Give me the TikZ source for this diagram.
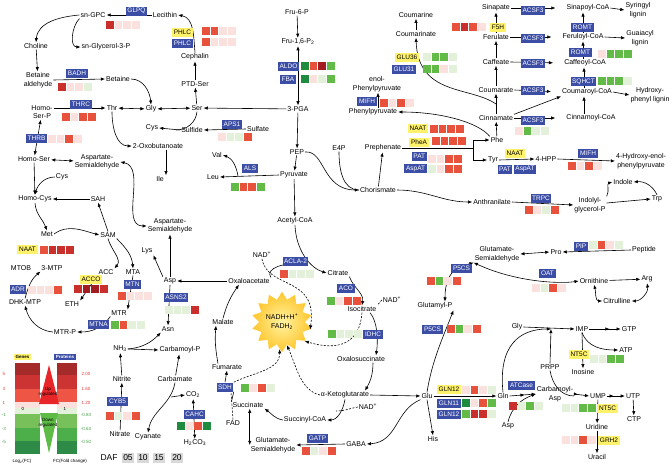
\documentclass[tikz,border=0pt]{standalone}
\usepackage{fontspec}
\setmainfont{Liberation Sans}
\usetikzlibrary{arrows.meta,shapes.geometric}

\definecolor{enzblue}{HTML}{3B4DA5}
\definecolor{enzyellow}{HTML}{FFF26B}
\definecolor{hR}{HTML}{E8513C}
\definecolor{hD}{HTML}{C9302C}
\definecolor{hX}{HTML}{A11D21}
\definecolor{hP}{HTML}{FBE1DD}
\definecolor{hL}{HTML}{E3F0DA}
\definecolor{hM}{HTML}{62BB47}
\definecolor{hK}{HTML}{1F8B3F}
\definecolor{lc1}{HTML}{A52A2A}
\definecolor{lc2}{HTML}{CC3333}
\definecolor{lc3}{HTML}{EE5544}
\definecolor{lc6}{HTML}{77C05A}
\definecolor{lc7}{HTML}{4DAF4A}
\definecolor{lc8}{HTML}{2E8B47}
\definecolor{tred}{HTML}{E8262A}
\definecolor{tgreen}{HTML}{5DBB46}
\definecolor{labred}{HTML}{E53935}
\definecolor{labgreen}{HTML}{43A047}
\definecolor{sunin}{HTML}{FFF3A0}
\definecolor{sunout}{HTML}{FFC62E}

\tikzset{
  cpd/.style={font=\fontsize{7}{8.5}\selectfont, inner sep=0.8pt, align=center},
  enzb/.style={fill=enzblue, text=white, font=\fontsize{6.5}{7}\selectfont,
    inner xsep=1.6pt, inner ysep=0pt, minimum height=9pt},
  enzy/.style={enzb, fill=enzyellow, text=black},
  arr/.style={-{Latex[length=4.2pt,width=3.4pt]}},
  darr/.style={{Latex[length=4.2pt,width=3.4pt]}-{Latex[length=4.2pt,width=3.4pt]}},
  arrr/.style={-{Latex[length=4.2pt,width=3.4pt,sep=7pt]Latex[length=4.2pt,width=3.4pt]}},
  dsh/.style={dash pattern=on 2pt off 1.5pt},
  sunstar/.style={star, star points=14, star point ratio=1.32, minimum size=56pt,
    inner sep=0pt, shading=radial, inner color=sunin, outer color=sunout,
    align=center, font=\fontsize{7}{9}\selectfont},
  legtxt/.style={font=\fontsize{4.5}{5}\selectfont, inner sep=0.5pt, align=center},
  legb/.style={enzb, font=\bfseries\fontsize{4.5}{5}\selectfont, minimum height=6pt},
  legy/.style={legb, fill=enzyellow, text=black},
  dafbox/.style={fill=black!15, font=\fontsize{8.5}{9}\selectfont, inner sep=0.5pt,
    minimum width=12pt, minimum height=10pt}
}

% heat map of four squares: x, y (top left), colours
\newcommand{\hmap}[3]{\foreach \c [count=\i from 0] in {#3} {\fill[\c] ({#1+8.6*\i},#2) rectangle ++(7.8,7.8);}}

\begin{document}
\begin{tikzpicture}[x=1pt, y=-1pt, line width=0.6pt]
\useasboundingbox (0,0) rectangle (670,466);
% Phospholipids, serine and glycine
\node[cpd] (snGPC) at (93,15) {sn-GPC};
\node[cpd] (lecithin) at (165,15) {Lecithin};
\node[cpd] (choline) at (36,46) {Choline};
\node[cpd] (snG3P) at (106,47) {sn-Glycerol-3-P};
\node[cpd] (betald) at (38,80) {Betaine\\aldehyde};
\node[cpd] (betaine) at (118,79) {Betaine};
\node[cpd] (homoserp) at (42,112) {Homo-\\Ser-P};
\node[cpd] (thr) at (112,108) {Thr};
\node[cpd] (gly) at (151,109) {Gly};
\node[cpd] (ser) at (197,108) {Ser};
\node[cpd] (ptdser) at (195,84) {PTD-Ser};
\node[cpd] (cephalin) at (195,57) {Cephalin};
\node[cpd] (cys) at (152,128) {Cys};
\node[cpd] (sulfide) at (192,130) {Sulfide};
\node[cpd] (sulfate) at (258,129) {Sulfate};
\node[cpd] (oxob) at (158,146) {2-Oxobutanoate};
% Methionine cycle
\node[cpd] (homoser) at (34,159) {Homo-Ser};
\node[cpd] (aspsa) at (97,162) {Aspartate-\\Semialdehyde};
\node[cpd] (ile) at (160,179) {Ile};
\node[cpd] (val) at (217,155) {Val};
\node[cpd] (leu) at (213,177) {Leu};
\node[cpd] (cysb) at (62,177) {Cys};
\node[cpd] (homocys) at (35,199) {Homo-Cys};
\node[cpd] (sah) at (98,199) {SAH};
\node[cpd] (met) at (47,234) {Met};
\node[cpd] (sam) at (108,235) {SAM};
\node[cpd] (aspsb) at (170,226) {Aspartate-\\Semialdehyde};
\node[cpd] (lys) at (147,251) {Lys};
\node[cpd] (asp) at (170,281) {Asp};
\node[cpd] (mtob) at (21,268) {MTOB};
\node[cpd] (mtp) at (52,268) {3-MTP};
\node[cpd] (acc) at (106,272) {ACC};
\node[cpd] (mta) at (133,272) {MTA};
\node[cpd] (dhkmtp) at (25,302) {DHK-MTP};
\node[cpd] (eth) at (72,304) {ETH};
\node[cpd] (mtr) at (119,313) {MTR};
\node[cpd] (mtrp) at (65,332) {MTR-P};
\node[cpd] (asn) at (168,329) {Asn};
\node[cpd] (nh3) at (120,349) {NH\textsubscript{3}};
\node[cpd] (carbp) at (180,350) {Carbamoyl-P};
\node[cpd] (nitrite) at (122,379) {Nitrite};
\node[cpd] (carbamate) at (175,379) {Carbamate};
\node[cpd] (co2) at (193,395) {CO\textsubscript{2}};
\node[cpd] (nitrate) at (120,434) {Nitrate};
\node[cpd] (cyanate) at (148,437) {Cyanate};
\node[cpd] (h2co3) at (195,443) {H\textsubscript{2}CO\textsubscript{3}};
% Glycolysis and TCA cycle
\node[cpd] (fru6p) at (297,12) {Fru-6-P};
\node[cpd] (fru16p) at (298,42) {Fru-1,6-P\textsubscript{2}};
\node[cpd] (pga) at (298,109) {3-PGA};
\node[cpd] (pep) at (297,152) {PEP};
\node[cpd] (e4p) at (339,148) {E4P};
\node[cpd] (pyr) at (294,175) {Pyruvate};
\node[cpd] (accoa) at (295,221) {Acetyl-CoA};
\node[cpd] (nada) at (262,255) {NAD\textsuperscript{+}};
\node[cpd] (citrate) at (338,273) {Citrate};
\node[cpd] (oaa) at (249,281) {Oxaloacetate};
\node[cpd] (malate) at (223,322) {Malate};
\node[cpd] (fumarate) at (227,367) {Fumarate};
\node[cpd] (succ) at (248,405) {Succinate};
\node[cpd] (fad) at (233,423) {FAD};
\node[cpd] (succoa) at (305,420) {Succinyl-CoA};
\node[cpd] (glusa) at (273,445) {Glutamate-\\Semialdehyde};
\node[cpd] (isocit) at (362,309) {Isocitrate};
\node[cpd] (nadb) at (392,300) {NAD\textsuperscript{+}};
\node[cpd] (oxsucc) at (361,359) {Oxalosuccinate};
\node[cpd] (akg) at (345,395) {α-Ketoglutarate};
\node[cpd] (nadc) at (368,407) {NAD\textsuperscript{+}};
\node[cpd] (gaba) at (356,444) {GABA};
\node[cpd] (glu) at (427,396) {Glu};
\node[cpd] (his) at (433,439) {His};
\node[cpd] (glutp) at (435,306) {Glutamyl-P};
\node[cpd] (glusb) at (497,254) {Glutamate-\\Semialdehyde};
\node[sunstar] (sun) at (282,322) {NADH+H\textsuperscript{+}\\FADH\textsubscript{2}};
% Aromatic amino acids and lignin
\node[cpd] (chor) at (378,190) {Chorismate};
\node[cpd] (preph) at (383,148) {Prephenate};
\node[cpd] (anthr) at (492,202) {Anthranilate};
\node[cpd] (phe) at (497,140) {Phe};
\node[cpd] (tyr) at (493,160) {Tyr};
\node[cpd] (phpyr) at (373,112) {Phenylpyruvate};
\node[cpd] (enolph) at (377,84) {enol-\\Phenylpyruvate};
\node[cpd] (coumarine) at (416,15) {Coumarine};
\node[cpd] (coumarinate) at (416,34) {Coumarinate};
\node[cpd] (sinapate) at (496,8) {Sinapate};
\node[cpd] (ferulate) at (496,37) {Ferulate};
\node[cpd] (caffeate) at (496,62) {Caffeate};
\node[cpd] (coumarate) at (496,90) {Coumarate};
\node[cpd] (cinnamate) at (496,118) {Cinnamate};
\node[cpd] (sincoa) at (588,8) {Sinapoyl-CoA};
\node[cpd] (fercoa) at (583,37) {Feruloyl-CoA};
\node[cpd] (cafcoa) at (585,63) {Caffeoyl-CoA};
\node[cpd] (coucoa) at (587,92) {Coumaroyl-CoA};
\node[cpd] (cincoa) at (591,118) {Cinnamoyl-CoA};
\node[cpd] (syring) at (638,10) {Syringyl\\lignin};
\node[cpd] (guaia) at (640,38) {Guaiacyl\\lignin};
\node[cpd] (hydrox) at (650,95) {Hydroxy-\\phenyl lignin};
\node[cpd] (hpp) at (546,159) {4-HPP};
\node[cpd] (hepp) at (641,161) {4-Hydroxy-enol-\\phenylpyruvate};
\node[cpd] (indole) at (623,182) {Indole};
\node[cpd] (igp) at (590,205) {Indolyl-\\glycerol-P};
\node[cpd] (trp) at (657,199) {Trp};
\node[cpd] (pro) at (556,252) {Pro};
\node[cpd] (peptide) at (644,250) {Peptide};
\node[cpd] (orn) at (594,281) {Ornithine};
\node[cpd] (arg) at (647,279) {Arg};
\node[cpd] (citr) at (617,301) {Citrulline};
% Nucleotides
\node[cpd] (glyb) at (517,327) {Gly};
\node[cpd] (imp) at (582,329) {IMP};
\node[cpd] (gtp) at (629,329) {GTP};
\node[cpd] (atp) at (626,350) {ATP};
\node[cpd] (prpp) at (550,367) {PRPP};
\node[cpd] (inosine) at (583,372) {Inosine};
\node[cpd] (gln) at (503,396) {Gln};
\node[cpd] (carbasp) at (555,394) {Carbamoyl-\\Asp};
\node[cpd] (ump) at (598,396) {UMP};
\node[cpd] (utp) at (633,396) {UTP};
\node[cpd] (ctp) at (634,419) {CTP};
\node[cpd] (aspb) at (508,426) {Asp};
\node[cpd] (uridine) at (597,427) {Uridine};
\node[cpd] (uracil) at (597,457) {Uracil};

% Reactions, left part
\draw[arr] (lecithin) -- (snGPC);
\draw[arr] (snGPC.west) to[out=185,in=85] (choline.north);
\draw[arr] (snGPC.south west) to[out=225,in=180] (snG3P.west);
\draw[arr] (choline) -- (betald);
\draw[arr] (betald.east) -- (betaine.west);
\draw[arr] (betaine.east) to[out=0,in=95] (gly.north);
\draw[arr] (homoserp.east |- thr.west) -- (thr.west);
\draw[darr] (thr) -- (gly);
\draw[darr] (gly) -- (ser);
\draw[arr] (pga) -- (ser);
\draw[arr] (ser) -- (ptdser);
\draw[arr] (ptdser) -- (cephalin);
\draw[arr] (cephalin.north) to[out=95,in=-10] (lecithin.east);
\coordinate (cysj) at (176,130);
\draw[arr] (sulfide.west) -- (cys.east);
\draw (ser.south) to[out=-95,in=0] (cysj);
\draw[arr] (sulfate.west) -- (sulfide.east);
\draw[arr] (thr.south) to[out=-90,in=180] (oxob.west);
\draw[darr] (homoserp) -- (homoser);
\draw[darr] (homoser) -- (aspsa);
\draw[arr] (homoser) -- (homocys);
\draw[arr] (cysb.west) to[out=180,in=75] (homocys.north);
\draw[arr] (sah) -- (homocys);
\draw[arr] (homocys.south) to[out=-85,in=110] (met.north);
\draw[arr] (met.east) to[out=35,in=165] (sam.west);
\draw[arr] (sam.north) -- (sah.south);
\draw[arr] (sam.south) to[out=-75,in=50] (acc.north east);
\draw[arr] (sam.south east) to[out=-45,in=95] (mta.north);
\draw[arr] (acc.south west) -- (eth.north east);
\draw[arr] (mta.south) -- (mtr.north east);
\draw[arr] (mtr.south west) to[out=-125,in=0] (mtrp.east);
\draw[arr] (mtrp.west) to[out=175,in=-75] (dhkmtp.south);
\draw[arr] (dhkmtp.north) to[out=75,in=-140] (mtp.south west);
\draw[darr] (aspsa.east) to[out=-10,in=180] (aspsb.west);
\draw[arr] (asp.north) -- (aspsb.south);
\draw[arr] (asp.north west) -- (lys.south east);
\draw[arr] (oaa.west) -- (asp.east);
\draw[arr] (asp.south) -- (asn.north);
\draw[arr] (nh3.east) to[out=5,in=-135] (asn.south west);
\draw[arr] (nh3.east) -- (carbp.west);
\draw[arr] (nitrite) -- (nh3);
\draw[arr] (nitrate) -- (nitrite);
\draw[arr] (carbamate) -- (carbp);
\draw[arr] (carbamate.south) to[out=-100,in=80] (cyanate.north);
\coordinate (co2j) at (171,397);
\draw[arr] (co2j) -- (co2.west);
\draw[darr] (co2) -- (h2co3);

% Glycolysis, branched amino acids
\draw[arr] (fru6p) -- (fru16p);
\draw[darr] (fru16p) -- (pga);
\draw[arr] (pga) -- (pep);
\draw[arr] (pep) -- (pyr);
\draw[arr] (pyr) -- (accoa);
\draw[arr] (pyr.west) -- (leu.east);
\coordinate (valj) at (238,176);
\draw[arr] (valj) to[out=100,in=-20] (val.east);
\draw[arr] ([xshift=8pt]oxob.south) -- ([xshift=6pt]ile.north);

% TCA cycle
\coordinate (csj) at (303,264);
\draw[arr] (accoa.south) .. controls (296,250) and (310,268) .. (citrate.west);
\draw (oaa.north east) .. controls (265,268) and (285,262) .. (csj);
\draw[arr] (malate.north) to[out=75,in=-125] ([xshift=-10pt]oaa.south);
\draw[arr] ([xshift=-9pt]fumarate.north) to[out=100,in=-95] ([xshift=-7pt]malate.south);
\draw[arr] (citrate.south east) to[out=-70,in=80] (isocit.north);
\draw[dsh] (nadb.west) -- (isocit.north east);
\draw[arr] ([xshift=8pt]isocit.south) .. controls (378,322) and (378,342) .. ([xshift=15pt]oxsucc.north);
\draw[arr] ([xshift=12pt]oxsucc.south) .. controls (373,375) and (370,382) .. ([xshift=20pt]akg.north);
\draw[arr] (akg.east) -- (glu.west);
\draw[arr] (akg.south) to[out=-100,in=0] (succoa.east);
\coordinate (nadcj) at (336,411);
\draw[dsh] (nadc.west) to[out=190,in=0] (nadcj);
\draw[arr] (succoa.west) to[out=170,in=-35] (succ.south east);
\draw[darr] (succ.south -| glusa.west) -- (glusa.west);
\draw[arr] (gaba.west) -- (glusa.east);
\draw[arr] (glu.south west) .. controls (395,410) and (398,442) .. (gaba.east);
\draw[arr] (glu.south) -- (his.north);
\draw[arr] (glu.north) .. controls (432,360) and (444,335) .. (glutp.south east);
\draw[darr] ([xshift=10pt]glutp.north) .. controls (445,268) and (462,266) .. (glusb.south west);
\draw[arr] (glu.east) -- (gln.west);
\draw[dsh,arr] (nada.south) .. controls (268,290) and (318,275) .. (sun.-15);
\draw[dsh,arr] (isocit.south) .. controls (360,342) and (340,352) .. (sun.-40);
\draw[dsh,arr] (akg.west) .. controls (300,390) and (296,365) .. (sun.-78);

% Aromatic amino acids and phenylpropanoids
\draw[arr] (pep.east) .. controls (325,150) and (322,190) .. (chor.west);
\draw (e4p.south) to[out=-90,in=180] (chor.west);
\draw[arr] (chor) -- (preph);
\draw[arr] (chor.east) to[out=0,in=180] (anthr.west);
\coordinate (fork) at (473,148);
\draw (preph.east) -- (fork);
\draw[arr] (fork) |- (phe.west);
\draw[arr] (fork) |- (tyr.west);
\draw[arr] (phe.north west) .. controls (478,122) and (440,112) .. (phpyr.east);
\draw[arr] ([xshift=5pt]phpyr.north) -- ([xshift=1pt]enolph.south);
\draw[arr] (phe) -- (cinnamate);
\draw[arr] (cinnamate) -- (coumarate);
\draw[arr] (coumarate) -- (caffeate);
\draw[arr] (caffeate) -- (ferulate);
\draw[arr] (ferulate) -- (sinapate);
\coordinate (coumj) at (496,104);
\draw[arr] (coumj) .. controls (470,86) and (418,96) .. (coumarinate.south);
\draw[arr] (coumarinate) -- (coumarine);
\foreach \a/\b in {sinapate/sincoa, ferulate/fercoa, caffeate/cafcoa, coumarate/coucoa, cinnamate/cincoa}
  \draw[arr, shorten >=10pt] (\a.east) -- (\b.west);
\draw[arr] (cinnamate.north east) -- (coucoa.south west);
\draw[arr] ([xshift=-7pt]cincoa.north) -- ([xshift=-3pt]coucoa.south);
\draw[arr] ([xshift=-3pt]coucoa.north) -- ([xshift=-1pt]cafcoa.north |- cafcoa.south);
\draw[arr] ([xshift=-2pt]cafcoa.north) -- (fercoa.south);
\draw[arr] (fercoa.north) -- ([xshift=-5pt]sincoa.south);
\draw[arr] (sincoa.east) -- (syring.west);
\draw[arr] (fercoa.east) -- (guaia.west);
\draw[arr] (coucoa.east) -- (hydrox.west);
\draw[arr] (tyr.east) -- (hpp.west);
\draw[arr] (hpp.east) -- (hepp.west);
\draw[arr] (anthr.east) -- (igp.west);
\draw[arr] (igp.north east) to[out=60,in=195] (indole.west);
\draw[arr] ([yshift=2pt]igp.east) -- (trp.west);
\draw[arr] (trp.north) to[out=115,in=5] (indole.east);
\draw[darr] (glusb.east) -- (pro.west);
\draw[arr] (peptide.west) -- (pro.east);
\draw[darr] (glusb.south west) .. controls (515,282) and (560,284) .. (orn.west);
\draw[arr] (orn) -- (arg);
\draw[darr] (orn.south) to[out=-75,in=180] (citr.west);
\draw[darr] (citr.east) to[out=0,in=-80] (arg.south);

% Nucleotides
\coordinate (impj) at (551,329);
\coordinate (umpj) at (574,396);
\draw[arr] (glyb.east) -- (imp.west);
\draw[arr] (gln.north) .. controls (498,345) and (520,329) .. (impj);
\draw[arr] (prpp.north) -- (impj);
\draw[arrr] (imp.east) -- (gtp.west);
\draw[arr] (imp.south) to[out=-70,in=180] (atp.west);
\draw[arr] (imp.south) -- (inosine.north);
\draw[arrr] (gln.east) -- (carbasp.west);
\draw[arr] (aspb.north) to[out=75,in=200] (carbasp.west);
\draw[arrr] (carbasp.east) -- (ump.west);
\draw (prpp.south) to[out=-80,in=180] (umpj);
\draw[arrr] (ump.east) -- (utp.west);
\draw[arr] (utp) -- (ctp);
\draw[arr] (ump) -- (uridine);
\draw[arr] (uridine) -- (uracil);

% Enzymes and heat maps
\node[enzb] (glpq) at (136.5,11) {GLPQ}; \hmap{106}{21}{hD,hP,hP,hP}
\node[enzy] (phlcy) at (182.5,32) {PHLC}; \hmap{202}{27}{hR,hR,hP,hP}
\node[enzb] (phlcb) at (182.5,43) {PHLC}; \hmap{202}{38}{hR,hP,hP,hP}
\node[enzb] (badh) at (77,73) {BADH}; \hmap{58}{83}{hD,hP,hP,hL}
\node[enzb] (thrc) at (81,104.5) {THRC}; \hmap{62}{113}{hR,hP,hR,hR}
\node[enzb] (thrb) at (36.5,138.5) {THRB}; \hmap{48}{135}{hP,hP,hR,hP}
\node[enzb] (aps1) at (232,124) {APS1}; \hmap{218}{133}{hP,hL,hL,hR}
\node[enzb] (aldo) at (288.5,66.5) {ALDO}; \hmap{301}{62}{hK,hR,hX,hM}
\node[enzb] (fba) at (288,79.5) {FBA}; \hmap{301}{75}{hK,hP,hL,hM}
\node[enzb] (als) at (250,168.5) {ALS}; \hmap{231}{183}{hM,hR,hR,hM}
\node[enzy] (naata) at (27.5,249) {NAAT}; \hmap{40}{246}{hR,hD,hD,hD}
\node[enzb] (adr) at (18,289) {ADR}; \hmap{28}{286}{hP,hP,hP,hR}
\node[enzy] (acco) at (91,279) {ACCO}; \hmap{74}{285}{hD,hX,hX,hD}
\node[enzb] (mtn) at (132.5,284.5) {MTN}; \hmap{118}{292}{hR,hP,hP,hP}
\node[enzb] (mtna) at (98.5,324) {MTNA}; \hmap{111}{321}{hM,hR,hL,hL}
\node[enzb] (asns2) at (176,297) {ASNS2}; \hmap{165}{306}{hL,hL,hL,hD}
\node[enzb] (cyb5) at (117.5,401) {CYB5}; \hmap{106}{412}{hR,hL,hP,hR}
\node[enzb] (cahc) at (194.5,414.5) {CAHC}; \hmap{177}{422}{hK,hP,hR,hK}
\node[enzb] (sdh) at (225,387) {SDH}; \hmap{241}{384}{hM,hP,hR,hL}
\node[enzb] (gatp) at (317.5,438.5) {GATP}; \hmap{302}{447}{hR,hL,hP,hR}
\node[enzb] (acla) at (295.5,261) {ACLA-2}; \hmap{280}{270}{hR,hL,hL,hL}
\node[enzb] (aco) at (346,288.5) {ACO}; \hmap{327}{297}{hM,hP,hR,hR}
\node[enzb] (idhc) at (373,334) {IDHC}; \hmap{328}{330}{hM,hL,hL,hL}
\node[enzb] (p5csa) at (461.5,268) {P5CS}; \hmap{427}{277}{hR,hM,hP,hR}
\node[enzb] (p5csb) at (432.5,329.5) {P5CS}; \hmap{447}{325}{hR,hM,hP,hR}
\node[enzy] (gln12y) at (449,389) {GLN12}; \hmap{462}{386}{hP,hR,hP,hL}
\node[enzb] (gln11) at (449,403.5) {GLN11}; \hmap{462}{399}{hK,hP,hR,hM}
\node[enzb] (gln12b) at (449,414.5) {GLN12}; \hmap{462}{410}{hM,hD,hD,hL}
\node[enzb] (atcase) at (521.5,385) {ATCase}; \hmap{509}{402}{hD,hL,hM,hL}
\node[enzy] (nt5ca) at (579,354.5) {NT5C}; \hmap{590}{355}{hL,hL,hM,hM}
\node[enzy] (nt5cb) at (607.5,408) {NT5C}; \hmap{562}{404}{hL,hL,hM,hM}
\node[enzy] (grh2) at (609,440.5) {GRH2}; \hmap{562}{436}{hP,hP,hR,hP}
\node[enzy] (glu36) at (407,57) {GLU36}; \hmap{423}{53}{hL,hM,hM,hL}
\node[enzb] (glu31) at (404,69.5) {GLU31}; \hmap{423}{65}{hM,hM,hP,hL}
\node[enzy] (f5h) at (498,27) {F5H}; \hmap{452}{23}{hR,hD,hR,hP}
\node[enzb] (mifha) at (367,101.5) {MIFH}; \hmap{380}{99}{hR,hP,hR,hP}
\node[enzy] (naatb) at (418,128.5) {NAAT}; \hmap{430}{125}{hR,hR,hR,hR}
\node[enzy] (phea) at (419,142) {PheA}; \hmap{432}{137}{hR,hR,hR,hR}
\node[enzb, anchor=east] (pata) at (427,156) {PAT}; \hmap{428}{155}{hP,hP,hR,hR}
\node[enzb, anchor=east] (aspata) at (427,168.5) {AspAT}; \hmap{428}{165}{hL,hP,hR,hR}
\node[enzy] (naatc) at (515,153) {NAAT};
\node[enzb] (patb) at (505,169) {PAT};
\node[enzb] (aspatb) at (525,169) {AspAT};
\node[enzb] (mifhb) at (588,153) {MIFH}; \hmap{568}{162}{hR,hP,hR,hP}
\node[enzb] (trpc) at (541,198) {TRPC}; \hmap{525}{206}{hR,hP,hL,hR}
\node[enzb] (pip) at (581,246.5) {PIP}; \hmap{589}{241}{hL,hR,hP,hL}
\node[enzb] (oat) at (547.5,273.5) {OAT}; \hmap{532}{284}{hP,hL,hR,hP}
\foreach \y [count=\k] in {10.5,38,63,90.5,120}
  \node[enzb] (acsf\k) at (533,\y) {ACSF3};
\hmap{515}{127}{hP,hM,hL,hL}
\node[enzb] (romta) at (582.5,27.5) {ROMT};
\node[enzb] (romtb) at (580.5,52.5) {ROMT}; \hmap{598}{50}{hP,hM,hM,hM}
\node[enzb] (sqhct) at (583.5,81.5) {SQHCT}; \hmap{598}{77}{hM,hM,hM,hL}

% Succinate dehydrogenase
\draw (succ.north west) -- (sdh.south east);
\draw[arr] (sdh.north) -- (fumarate.south);
\draw[dsh] (fad.north) -- ([xshift=6pt]sdh.south);
\draw[dsh,arr] (sdh.north east) .. controls (255,372) and (280,370) .. (sun.-95);

% Legend
\node[legy] (lgenes) at (22.5,357) {Genes};
\node[legb] (lprot) at (65,357) {Proteins};
\foreach \ya/\yb/\c in {363/375/lc1, 375/389/lc2, 389/402/lc3, 402/408/hP, 408/414/hL, 414/428/lc6, 428/441/lc7, 441/454/lc8} {
  \fill[\c] (15,\ya) rectangle (40,\yb);
  \fill[\c] (57,\ya) rectangle (77,\yb);
}
\fill[tred] (49,365) -- (59,404) -- (39,404) -- cycle;
\fill[tgreen] (40,413) -- (58,413) -- (49,453) -- cycle;
\node[legtxt] (lup) at (48,392) {Up\\regulated};
\node[legtxt] (ldown) at (48,423) {Down\\regulated};
\node[legtxt] (lzero) at (23,409) {0};
\node[legtxt] (lone) at (65,409) {1};
\foreach \t/\u/\y/\c in {5/2.00/374/labred, 3/1.60/389/labred, 1/1.20/403/labred, -1/-0.83/415/labgreen, -3/-0.63/429/labgreen, -5/-0.50/442/labgreen} {
  \node[legtxt, text=\c] at (4,\y) {\t};
  \node[legtxt, text=\c] at (86,\y) {\u};
}
\node[legtxt] (llog) at (22,461) {Log\textsubscript{2}(FC)};
\node[legtxt] (lfc) at (70,461) {FC(Fold change)};
\node[font=\fontsize{8.5}{9}\selectfont, inner sep=0.5pt] (daf) at (109,458) {DAF};
\foreach \t/\x in {05/128,10/143,15/159,20/177}
  \node[dafbox] (daf\t) at (\x,458) {\t};
\end{tikzpicture}
\end{document}
